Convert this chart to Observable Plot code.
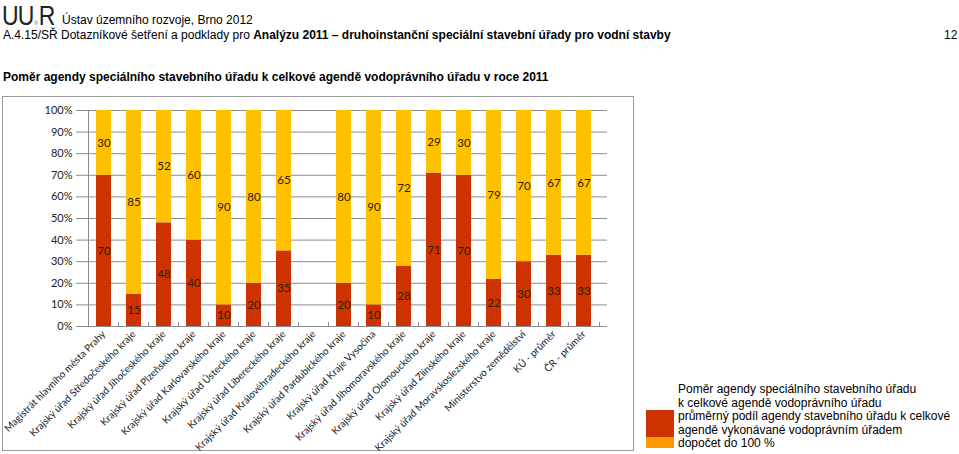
<!DOCTYPE html>
<html>
<head>
<meta charset="utf-8">
<script src="https://cdn.jsdelivr.net/npm/d3@7"></script>
<script src="https://cdn.jsdelivr.net/npm/@observablehq/plot@0.6"></script>
<style>
  html, body { margin: 0; padding: 0; background: #fff; }
  body { width: 959px; height: 454px; position: relative; overflow: hidden; font-family: "Liberation Sans", Arial, sans-serif; color: #000; }
  .abs { position: absolute; white-space: nowrap; }
  #logo { left: 2px; top: 4px; height: 24px; font-family: "Liberation Sans", sans-serif; font-size: 28px; line-height: 24px; letter-spacing: -1px; color: #222; transform: scaleX(0.82); transform-origin: 0 0; }
  #logo span { font-size: 6px; line-height: 6px; letter-spacing: 0; margin: 0 1px; color: #555; }
  #org { left: 62px; top: 13px; font-size: 12px; }
  #doc { left: 3px; top: 28px; font-size: 12px; }
  #page { left: 944px; top: 28px; font-size: 12px; }
  #title { left: 3px; top: 70px; font-size: 12px; font-weight: bold; }
  #chartbox { left: 2px; top: 96px; width: 630px; height: 353px; border: 1px solid #9a9a9a; }
  #chart { left: 3px; top: 97px; }
  #legend { left: 646px; top: 383px; }
  .lg-text { position: absolute; left: 32px; font-size: 12px; line-height: 13.5px; white-space: nowrap; top: 0; }
  .sw { position: absolute; left: 0; width: 28px; }
</style>
</head>
<body>
<script>
// ---- data ----
const categories = [
  "Magistrát hlavního města Prahy",
  "Krajský úřad Středočeského kraje",
  "Krajský úřad Jihočeského kraje",
  "Krajský úřad Plzeňského kraje",
  "Krajský úřad Karlovarského kraje",
  "Krajský úřad Ústeckého kraje",
  "Krajský úřad Libereckého kraje",
  "Krajský úřad Královéhradeckého kraje",
  "Krajský úřad Pardubického kraje",
  "Krajský úřad Kraje Vysočina",
  "Krajský úřad Jihomoravského kraje",
  "Krajský úřad Olomouckého kraje",
  "Krajský úřad Zlínského kraje",
  "Krajský úřad Moravskoslezského kraje",
  "Ministerstvo zemědělství",
  "KÚ - průměr",
  "ČR - průměr"
];
// podíl agendy speciálního stavebního úřadu
const specialShare = [70, 15, 48, 40, 10, 20, 35, null, 20, 10, 28, 71, 70, 22, 30, 33, 33];
// dopočet do 100 %
const remainder = [30, 85, 52, 60, 90, 80, 65, null, 80, 90, 72, 29, 30, 79, 70, 67, 67];
const seriesNames = [
  "průměrný podíl agendy stavebního úřadu k celkové agendě vykonávané vodoprávním úřadem",
  "dopočet do 100 %"
];
const seriesColors = ["#CC3300", "#FFC000"];
const yTicks = [0, 0.1, 0.2, 0.3, 0.4, 0.5, 0.6, 0.7, 0.8, 0.9, 1];

const rows = [];
categories.forEach((c, i) => {
  if (specialShare[i] != null) rows.push({cat: c, series: seriesNames[0], value: specialShare[i]});
  if (remainder[i] != null) rows.push({cat: c, series: seriesNames[1], value: remainder[i]});
});

const W = 630, H = 353, mL = 77, mR = 26, mT = 13, mB = 124;
const step = (W - mL - mR) / categories.length;
const font = "Lato, 'Open Sans', sans-serif";

const stackOpts = {offset: "normalize", x: "cat", y: "value", z: "series", order: seriesNames};

const chart = Plot.plot({
  width: W, height: H,
  marginLeft: mL, marginRight: mR, marginTop: mT, marginBottom: mB,
  style: {fontFamily: font, background: "transparent", overflow: "visible"},
  x: {domain: categories, padding: 0.5, axis: null, label: null},
  y: {domain: [0, 1], axis: null, label: null},
  color: {domain: seriesNames, range: seriesColors},
  marks: [
    Plot.ruleY(yTicks, {stroke: "#8c8c8c", strokeWidth: 1}),
    Plot.barY(rows, Plot.stackY({...stackOpts, fill: "series"})),
    Plot.text(rows, Plot.stackY({...stackOpts, text: d => String(d.value), fill: "#2a2200", fontSize: 11.5, fontFamily: font})),
    Plot.ruleX([categories[0]], {stroke: "#8c8c8c", dx: -step / 2}),
    Plot.axisY({ticks: yTicks, tickFormat: d3.format(".0%"), tickSize: 4, tickPadding: 4, stroke: "#8c8c8c", fill: "#222", fontSize: 11, fontFamily: font, label: null}),
    Plot.ruleX(categories, {y1: 0, y2: 0, insetTop: -4, stroke: "#8c8c8c", dx: -step / 2}),
    Plot.ruleX([categories[categories.length - 1]], {y1: 0, y2: 0, insetTop: -4, stroke: "#8c8c8c", dx: step / 2}),
    Plot.axisX({tickSize: 0, tickPadding: 6, tickRotate: -45, fill: "#222", fontSize: 10, fontFamily: font, label: null})
  ]
});

function addDiv(id, html) {
  const d = document.createElement("div");
  d.className = "abs"; d.id = id; d.innerHTML = html;
  document.body.appendChild(d);
  return d;
}
addDiv("logo", "UU<span>®</span>R");
addDiv("org", "Ústav územního rozvoje, Brno 2012");
addDiv("doc", "A.4.15/SŘ Dotazníkové šetření a podklady pro <b>Analýzu 2011 – druhoinstanční speciální stavební úřady pro vodní stavby</b>");
addDiv("page", "12");
addDiv("title", "Poměr agendy speciálního stavebního úřadu k celkové agendě vodoprávního úřadu v roce 2011");
addDiv("chartbox", "");
const ch = addDiv("chart", "");
ch.appendChild(chart);

const lg = addDiv("legend", "");
lg.innerHTML =
  `<div class="lg-text">Poměr agendy speciálního stavebního úřadu<br>k celkové agendě vodoprávního úřadu<br>${seriesNames[0].replace("k celkové ", "k celkové<br>")}<br>${seriesNames[1]}</div>` +
  `<div class="sw" style="top:27px;height:27px;background:${seriesColors[0]}"></div>` +
  `<div class="sw" style="top:54px;height:11px;background:#FF9900"></div>`;
</script>
</body>
</html>
